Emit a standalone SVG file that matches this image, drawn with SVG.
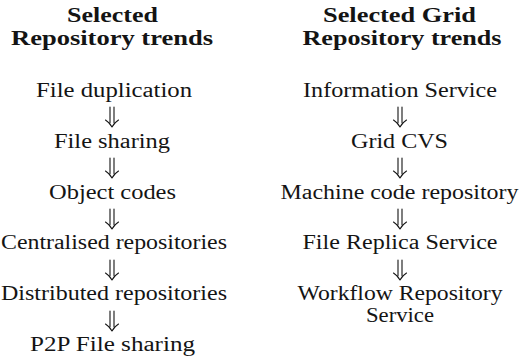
<svg xmlns="http://www.w3.org/2000/svg" width="521" height="358" viewBox="0 0 521 358">
  <style>
    text { font-family: "Liberation Serif", "DejaVu Serif", serif; fill: #141414; text-anchor: middle; font-size: 20px; }
    .head { font-weight: bold; }
    .arrow { fill: none; stroke: #141414; stroke-width: 1.1; stroke-linecap: round; stroke-linejoin: round; }
  </style>
  <defs>
    <!-- double down arrow, top at y=0, tip at y=20 -->
    <g id="dbl-down">
      <path d="M-2 0 V15.5 M2 0 V15.5"/>
      <path d="M-6.5 13 Q-2.5 15.5 0 20 Q2.5 15.5 6.5 13"/>
    </g>
  </defs>
  <rect width="521" height="358" fill="#ffffff"/>

  <!-- left column: general repository trends -->
  <g id="left-heading">
    <text class="head" x="112.5" y="22" textLength="91" lengthAdjust="spacingAndGlyphs">Selected</text>
    <text class="head" x="112" y="45" textLength="202" lengthAdjust="spacingAndGlyphs">Repository trends</text>
  </g>
  <g id="file-duplication"><text x="114" y="96.5" textLength="156" lengthAdjust="spacingAndGlyphs">File duplication</text></g>
  <g id="file-sharing"><text x="112" y="147.5" textLength="116" lengthAdjust="spacingAndGlyphs">File sharing</text></g>
  <g id="object-codes"><text x="112.5" y="198.5" textLength="127" lengthAdjust="spacingAndGlyphs">Object codes</text></g>
  <g id="centralised-repositories"><text x="114" y="249" textLength="226" lengthAdjust="spacingAndGlyphs">Centralised repositories</text></g>
  <g id="distributed-repositories"><text x="114" y="300" textLength="226" lengthAdjust="spacingAndGlyphs">Distributed repositories</text></g>
  <g id="p2p-file-sharing"><text x="112.5" y="351" textLength="165" lengthAdjust="spacingAndGlyphs">P2P File sharing</text></g>

  <!-- right column: grid repository trends -->
  <g id="right-heading">
    <text class="head" x="399.5" y="22" textLength="153" lengthAdjust="spacingAndGlyphs">Selected Grid</text>
    <text class="head" x="402" y="45" textLength="199" lengthAdjust="spacingAndGlyphs">Repository trends</text>
  </g>
  <g id="information-service"><text x="400" y="96.5" textLength="194" lengthAdjust="spacingAndGlyphs">Information Service</text></g>
  <g id="grid-cvs"><text x="399.5" y="147.5" textLength="97" lengthAdjust="spacingAndGlyphs">Grid CVS</text></g>
  <g id="machine-code-repository"><text x="399.5" y="198.5" textLength="238" lengthAdjust="spacingAndGlyphs">Machine code repository</text></g>
  <g id="file-replica-service"><text x="400" y="249" textLength="195" lengthAdjust="spacingAndGlyphs">File Replica Service</text></g>
  <g id="workflow-repository-service">
    <text x="400" y="300" textLength="205" lengthAdjust="spacingAndGlyphs">Workflow Repository</text>
    <text x="400" y="322" textLength="68" lengthAdjust="spacingAndGlyphs">Service</text>
  </g>

  <!-- connectors between successive steps -->
  <g id="connectors" class="arrow">
    <use href="#dbl-down" x="112" y="107"/>
    <use href="#dbl-down" x="112" y="158"/>
    <use href="#dbl-down" x="112" y="209"/>
    <use href="#dbl-down" x="112" y="260"/>
    <use href="#dbl-down" x="112" y="311"/>
    <use href="#dbl-down" x="400" y="107"/>
    <use href="#dbl-down" x="400" y="158"/>
    <use href="#dbl-down" x="400" y="209"/>
    <use href="#dbl-down" x="400" y="260"/>
  </g>
</svg>
